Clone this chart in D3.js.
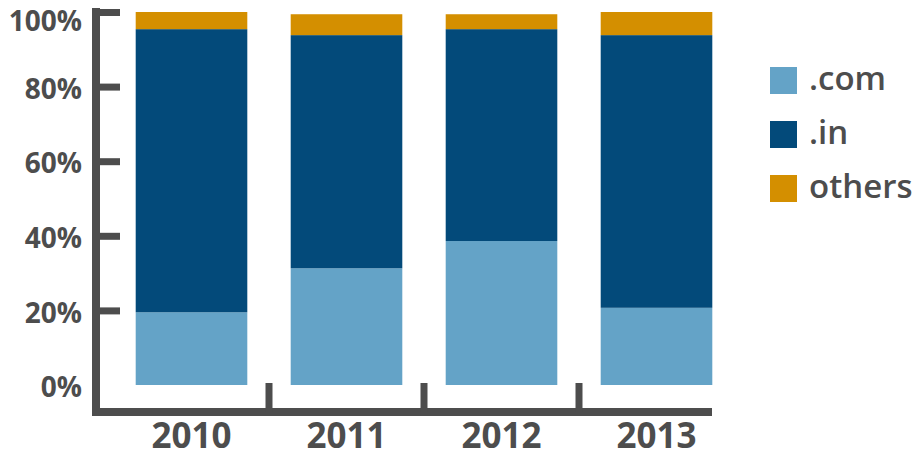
<!DOCTYPE html>
<html>
<head>
<meta charset="utf-8">
<script src="https://cdn.jsdelivr.net/npm/d3@7"></script>
<style>
  html, body { margin: 0; padding: 0; background: #fff; }
  svg { display: block; }
</style>
</head>
<body>
<svg id="chart" width="919" height="459"></svg>
<script>
const years = ["2010", "2011", "2012", "2013"];
const seriesNames = [".com", ".in", "others"];
const comValues = [19.5, 31.3, 38.6, 20.7];
const inValues = [75.9, 62.5, 56.8, 73.1];
const othersValues = [4.6, 5.6, 4.0, 6.2];
const yTickValues = [0, 20, 40, 60, 80, 100];
const colors = ["#64a3c7", "#034a7a", "#d48f00"];

const rows = years.map((y, i) => ({ year: y, ".com": comValues[i], ".in": inValues[i], "others": othersValues[i] }));
const stacked = d3.stack().keys(seriesNames)(rows);

const svg = d3.select("#chart");
const axisColor = "#4d4d4d";
const font = "'Open Sans', sans-serif";

const x = d3.scaleBand().domain(years).range([114, 734]).paddingInner(0.28).paddingOuter(0.14);
const y = d3.scaleLinear().domain([0, 100]).range([385, 12]);

// bars
svg.append("g").selectAll("g").data(stacked).join("g")
  .attr("fill", (d, i) => colors[i])
  .selectAll("rect").data(d => d).join("rect")
  .attr("x", d => x(d.data.year))
  .attr("width", x.bandwidth())
  .attr("y", d => y(d[1]))
  .attr("height", d => y(d[0]) - y(d[1]));

// y axis
const yAxis = svg.append("g").attr("transform", "translate(96,0)")
  .call(d3.axisLeft(y).tickValues(yTickValues).tickFormat(d => d + "%").tickSize(-24).tickPadding(14));
yAxis.select(".domain").remove();
yAxis.selectAll(".tick line").attr("stroke", axisColor).attr("stroke-width", 7)
  .attr("display", d => d === 0 ? "none" : null);
yAxis.selectAll(".tick text").attr("fill", axisColor).attr("font-family", font)
  .attr("font-weight", 700).attr("font-size", 28).attr("dy", d => d === 100 ? "0.65em" : "0.42em");
svg.append("line").attr("x1", 96).attr("x2", 96).attr("y1", 8).attr("y2", 416)
  .attr("stroke", axisColor).attr("stroke-width", 8);

// x axis
const xAxisY = 412;
svg.append("line").attr("x1", 92).attr("x2", 712).attr("y1", xAxisY).attr("y2", xAxisY)
  .attr("stroke", axisColor).attr("stroke-width", 8);
const sepYears = years.slice(1);
svg.append("g").selectAll("line").data(sepYears).join("line")
  .attr("x1", d => x(d) - x.step() * x.paddingInner() / 2)
  .attr("x2", d => x(d) - x.step() * x.paddingInner() / 2)
  .attr("y1", 383).attr("y2", xAxisY)
  .attr("stroke", axisColor).attr("stroke-width", 7);
svg.append("g").selectAll("text").data(years).join("text")
  .attr("x", d => x(d) + x.bandwidth() / 2)
  .attr("y", 448)
  .attr("text-anchor", "middle")
  .attr("fill", axisColor).attr("font-family", font).attr("font-weight", 700).attr("font-size", 35)
  .text(d => d);

// legend
const legend = svg.append("g").selectAll("g").data(seriesNames).join("g")
  .attr("transform", (d, i) => `translate(770,${67 + i * 54})`);
legend.append("rect").attr("width", 27).attr("height", 27).attr("fill", (d, i) => colors[i]);
legend.append("text").attr("x", 39).attr("y", 23)
  .attr("fill", axisColor).attr("font-family", font).attr("font-weight", 600).attr("font-size", 33)
  .text(d => d);
</script>
</body>
</html>
